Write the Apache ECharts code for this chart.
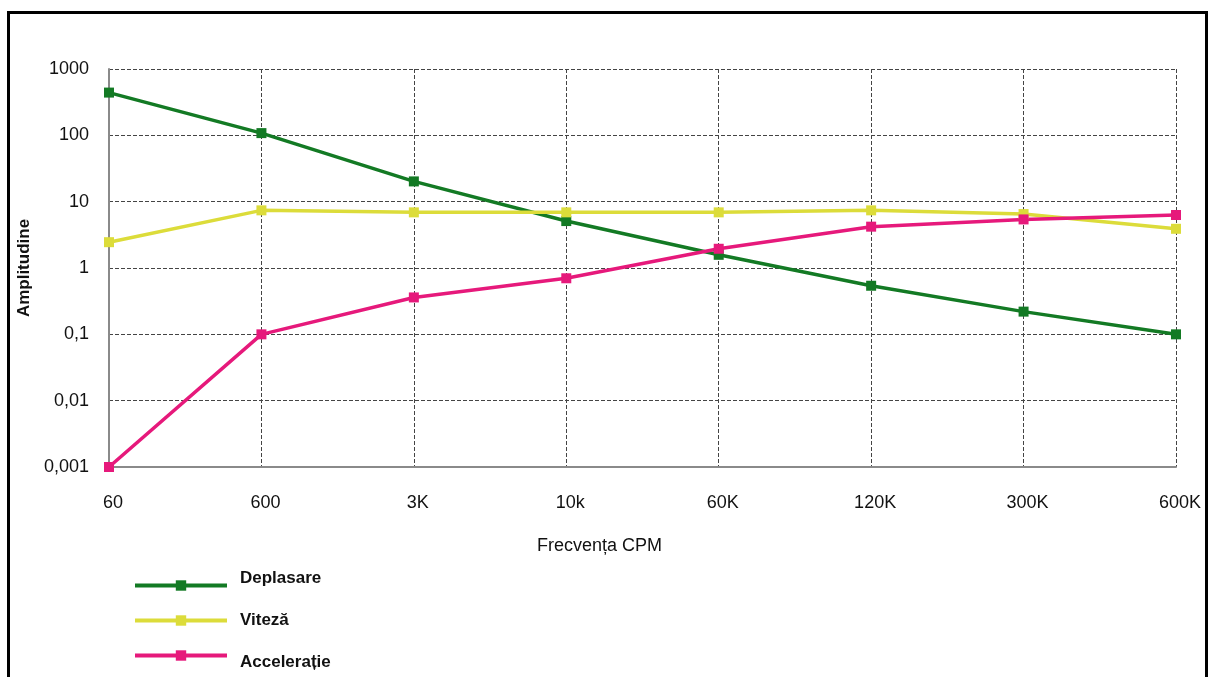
<!DOCTYPE html>
<html><head><meta charset="utf-8">
<script src="https://cdn.jsdelivr.net/npm/echarts@6/dist/echarts.min.js"></script>
<style>html,body{margin:0;padding:0;background:#fff}#c{width:1211px;height:677px}</style>
</head><body><div id="c"></div>
<script>
const categories = ['60', '600', '3K', '10k', '60K', '120K', '300K', '600K'];
const deplasare = [441, 108, 20.2, 5.1, 1.58, 0.54, 0.22, 0.1];
const viteza = [2.45, 7.4, 6.9, 6.9, 6.9, 7.4, 6.5, 3.9];
const acceleratie = [0.001, 0.1, 0.36, 0.70, 1.95, 4.2, 5.4, 6.3];
const yTickLabels = ['0,001', '0,01', '0,1', '1', '10', '100', '1000'];
const seriesNames = ['Deplasare', 'Viteză', 'Accelerație'];
const seriesColors = ['#137a24', '#dcdc3a', '#e6197b'];
const xAxisTitle = 'Frecvența CPM';
const yAxisTitle = 'Amplitudine';

// legend text vertical placement relative to its line: -1 above, 0 level, 1 below
const legendTextShift = [-1, 0, 1];

const chart = echarts.init(document.getElementById('c'), null, {renderer: 'canvas'});
const font = 'Liberation Sans, Arial, sans-serif';
const seriesData = [deplasare, viteza, acceleratie];

chart.setOption({
  backgroundColor: '#ffffff',
  animation: false,
  textStyle: {fontFamily: font},
  grid: {left: 109, right: 35, top: 69, bottom: 210},
  xAxis: {
    type: 'category',
    data: categories,
    boundaryGap: false,
    name: xAxisTitle,
    nameLocation: 'middle',
    nameGap: 70,
    nameTextStyle: {fontSize: 18, color: '#111', fontFamily: font, padding: [0, 86, 0, 0]},
    axisLine: {show: true, lineStyle: {color: '#8a8a8a', width: 2}},
    axisTick: {show: false},
    axisLabel: {fontSize: 18, color: '#111', margin: 27, fontFamily: font, padding: [0, 0, 0, 8]},
    splitLine: {show: true, lineStyle: {color: '#444', width: 1, type: [4, 2]}}
  },
  yAxis: {
    type: 'log',
    logBase: 10,
    min: 0.001,
    max: 1000,
    interval: 1,
    name: yAxisTitle,
    nameLocation: 'middle',
    nameRotate: 90,
    nameGap: 74,
    nameTextStyle: {fontSize: 17, fontWeight: 'bold', color: '#111', fontFamily: font},
    axisLine: {show: true, lineStyle: {color: '#8a8a8a', width: 2}},
    axisTick: {show: false},
    axisLabel: {
      fontSize: 18, color: '#111', margin: 20, fontFamily: font,
      formatter: function (v) { return yTickLabels[Math.round(Math.log10(v)) + 3]; }
    },
    splitLine: {show: true, lineStyle: {color: '#444', width: 1, type: [4, 2]}}
  },
  legend: {
    orient: 'vertical',
    left: 133,
    top: 570,
    height: 140,
    padding: 0,
    itemWidth: 92,
    itemHeight: 13,
    itemGap: 5.5,
    data: seriesNames.map(function (n, i) {
      return {name: n, textStyle: {lineHeight: legendTextShift[i] === 0 ? 28 : 14}};
    }),
    lineStyle: {width: 4},
    formatter: function (name) {
      const s = legendTextShift[seriesNames.indexOf(name)];
      if (s < 0) return name + '\n ';
      if (s > 0) return ' \n' + name;
      return name;
    },
    textStyle: {fontSize: 17, fontWeight: 'bold', color: '#111', lineHeight: 14, padding: [0, 0, 0, 8], fontFamily: font}
  },
  graphic: [{
    type: 'rect',
    shape: {x: 8.5, y: 12.5, width: 1198, height: 720},
    style: {fill: 'none', stroke: '#000', lineWidth: 3},
    silent: true
  }],
  series: seriesNames.map(function (name, i) {
    return {
      name: name,
      type: 'line',
      data: seriesData[i],
      symbol: 'rect',
      symbolSize: 10,
      smooth: false,
      itemStyle: {color: seriesColors[i]},
      lineStyle: {color: seriesColors[i], width: 3.5}
    };
  })
});
</script>
</body></html>
